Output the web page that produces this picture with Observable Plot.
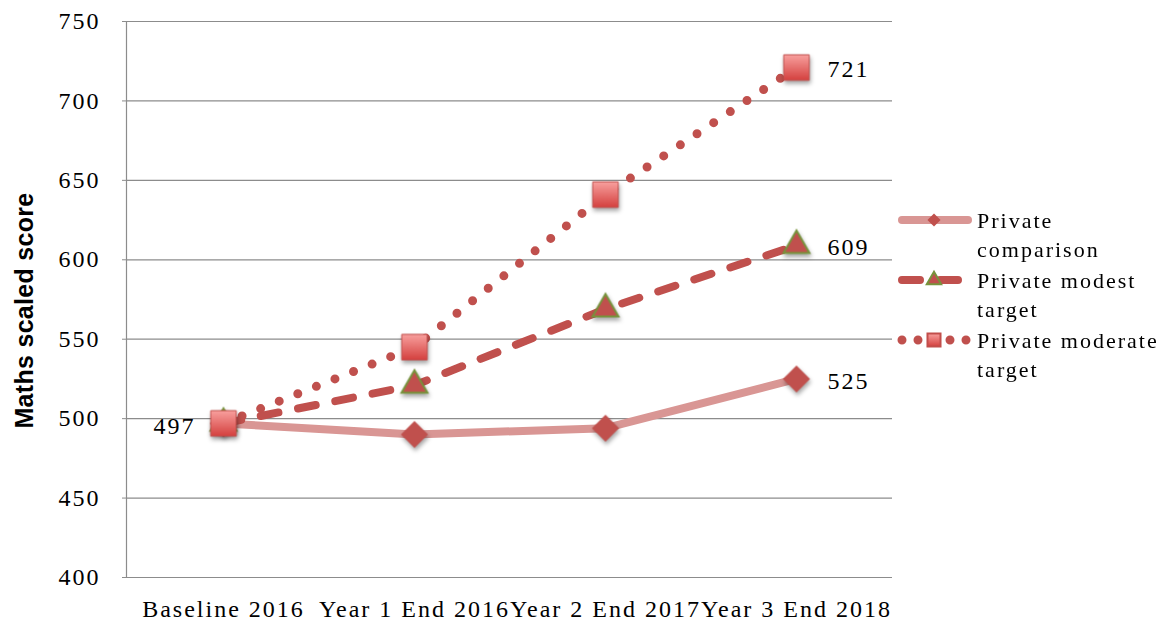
<!DOCTYPE html>
<html>
<head>
<meta charset="utf-8">
<script src="https://cdn.jsdelivr.net/npm/d3@7"></script>
<script src="https://cdn.jsdelivr.net/npm/@observablehq/plot@0.6"></script>
<style>
  html, body { margin: 0; padding: 0; background: #fff; }
  #wrap { position: relative; width: 1164px; height: 627px; }
  #legend { position: absolute; left: 0; top: 0; pointer-events: none; }
</style>
</head>
<body>
<div id="wrap"></div>
<script>
const categories = ["Baseline 2016", "Year 1 End 2016", "Year 2 End 2017", "Year 3 End 2018"];
const comparison = [497, 490, 494, 525];
const modest = [497, 521, 569, 609];
const moderate = [497, 545, 641, 721];
const seriesNames = ["Private comparison", "Private modest target", "Private moderate target"];
const legendLines = [["Private", "comparison"], ["Private modest", "target"], ["Private moderate", "target"]];
const yTicks = [400, 450, 500, 550, 600, 650, 700, 750];
const yLabel = "Maths scaled score";

const seriesValues = [comparison, modest, moderate];
const rows = [];
seriesNames.forEach((s, si) => categories.forEach((c, ci) => rows.push({series: s, cat: c, value: seriesValues[si][ci], idx: ci})));
const bySeries = s => rows.filter(d => d.series === s);

const RED = "#c0504d";
const PINK = "#d99694";
const GREEN = "#77933c";

const chart = Plot.plot({
  width: 1164,
  height: 627,
  marginLeft: 126,
  marginRight: 272,
  marginTop: 21,
  marginBottom: 50,
  style: "font-family: 'Liberation Serif', serif; font-size: 24px; letter-spacing: 2px; color: #000; background: transparent; overflow: visible;",
  x: {type: "point", domain: categories, padding: 0.5, label: null},
  y: {domain: [400, 750], label: null},
  marks: [
    Plot.ruleY(yTicks, {stroke: "#8c8c8c", strokeWidth: 1.2}),
    Plot.frame({anchor: "left", stroke: "#8c8c8c", strokeWidth: 1.2}),
    Plot.axisY({ticks: yTicks, tickSize: 4, tickPadding: 22, stroke: "#8c8c8c", fontSize: 24, fill: "#000", label: null, tickFormat: d => String(d)}),
    Plot.axisX({tickSize: 0, tickPadding: 22, fontSize: 24, fill: "#000", label: null}),
    Plot.text([yLabel], {text: d => d, frameAnchor: "left", textAnchor: "middle", rotate: -90, dx: -102, dy: 11, fontFamily: "Liberation Sans, Arial, sans-serif", fontWeight: "bold", fontSize: 25, fill: "#000", ariaDescription: "ylabel"}),
    Plot.line(bySeries(seriesNames[0]), {x: "cat", y: "value", stroke: PINK, strokeWidth: 8, strokeLinecap: "round", strokeLinejoin: "round"}),
    Plot.line(bySeries(seriesNames[1]), {x: "cat", y: "value", stroke: RED, strokeWidth: 8, strokeDasharray: "18 20", strokeLinecap: "round"}),
    Plot.line(bySeries(seriesNames[2]), {x: "cat", y: "value", stroke: RED, strokeWidth: 9, strokeDasharray: "0 20", strokeLinecap: "round"}),
    Plot.dot(bySeries(seriesNames[0]), {x: "cat", y: "value", symbol: "diamond2", r: 12.2, fill: RED, stroke: "none"}),
    Plot.dot(bySeries(seriesNames[1]), {x: "cat", y: "value", symbol: "triangle", r: 9.6, fill: RED, stroke: GREEN, strokeWidth: 2}),
    Plot.dot(bySeries(seriesNames[2]), {x: "cat", y: "value", symbol: "square", r: 14.4, fill: "url(#sqgrad)", stroke: "#c24e4b", strokeWidth: 1}),
    Plot.text(bySeries(seriesNames[0]).filter(d => d.idx === 0), {x: "cat", y: "value", text: d => String(d.value), dx: -28, dy: 3, textAnchor: "end", fontSize: 24, fill: "#000"}),
    Plot.text(rows.filter(d => d.idx === categories.length - 1), {x: "cat", y: "value", text: d => String(d.value), dx: 31, dy: 2, textAnchor: "start", fontSize: 24, fill: "#000"})
  ]
});

const svg = d3.select(chart);
const defs = svg.insert("defs", ":first-child");
const grad = defs.append("linearGradient").attr("id", "sqgrad").attr("x1", 0).attr("y1", 0).attr("x2", 0).attr("y2", 1);
grad.append("stop").attr("offset", "0%").attr("stop-color", "#f8a09e");
grad.append("stop").attr("offset", "100%").attr("stop-color", "#d4403e");
chart.querySelectorAll('g[aria-label="dot"]').forEach(g => g.style.filter = "drop-shadow(1px 3px 2px rgba(0,0,0,0.35))");
chart.querySelectorAll('g[aria-description="ylabel"]').forEach(g => g.style.letterSpacing = "0.3px");

document.getElementById("wrap").appendChild(chart);

const lg = d3.select("#wrap").append("svg").attr("id", "legend").attr("width", 1164).attr("height", 627)
  .style("font-family", "'Liberation Serif', serif").style("font-size", "22px").style("letter-spacing", "2px");
const ldefs = lg.append("defs");
const g2 = ldefs.append("linearGradient").attr("id", "sqgrad2").attr("x1", 0).attr("y1", 0).attr("x2", 0).attr("y2", 1);
g2.append("stop").attr("offset", "0%").attr("stop-color", "#f8a09e");
g2.append("stop").attr("offset", "100%").attr("stop-color", "#d4403e");

const legendY = [220, 280, 340];
const styles = [
  {stroke: PINK, width: 8, dash: null, sym: d3.symbolDiamond2, size: 110, fill: RED, sstroke: "none"},
  {stroke: RED, width: 8, dash: "18 20", sym: d3.symbolTriangle, size: 90, fill: RED, sstroke: GREEN},
  {stroke: RED, width: 9, dash: "0 16", sym: d3.symbolSquare, size: 170, fill: "url(#sqgrad2)", sstroke: "#c24e4b"}
];
seriesNames.forEach((name, i) => {
  const y = legendY[i], st = styles[i];
  const ln = lg.append("line").attr("x1", 902).attr("x2", 968).attr("y1", y).attr("y2", y)
    .attr("stroke", st.stroke).attr("stroke-width", st.width).attr("stroke-linecap", "round");
  if (st.dash) ln.attr("stroke-dasharray", st.dash);
  lg.append("path").attr("d", d3.symbol(st.sym, st.size)()).attr("transform", `translate(934,${y})`)
    .attr("fill", st.fill).attr("stroke", st.sstroke).attr("stroke-width", 2);
  legendLines[i].forEach((t, j) => {
    lg.append("text").attr("x", 977).attr("y", y + 8 + j * 29).text(t);
  });
});
</script>
</body>
</html>
